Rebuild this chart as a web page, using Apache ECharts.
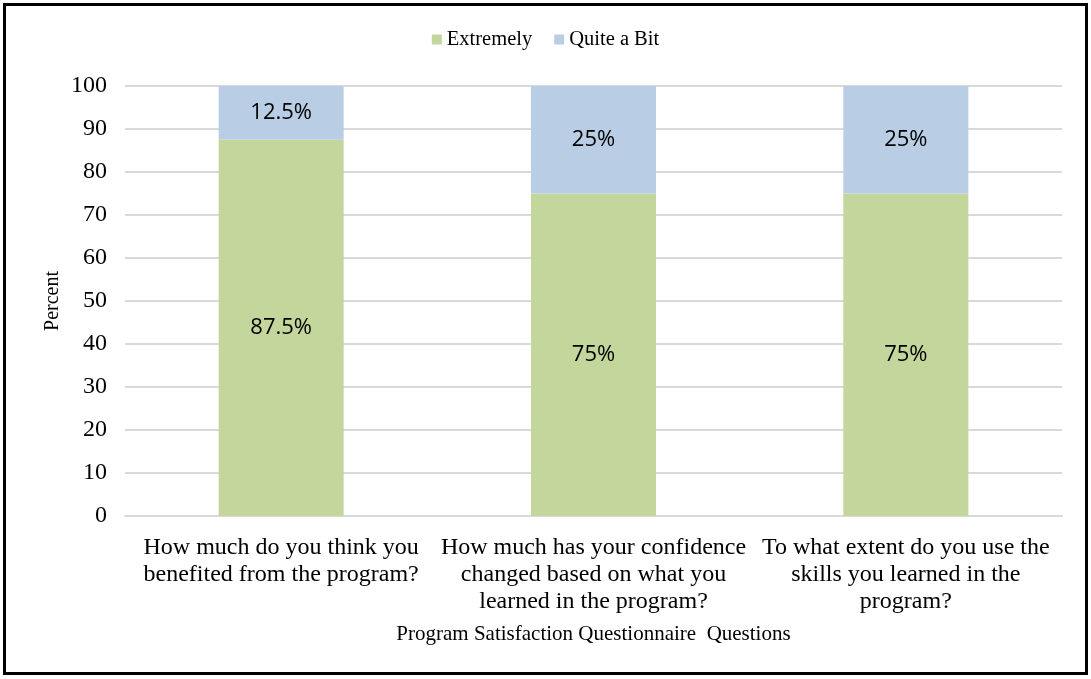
<!DOCTYPE html>
<html><head><meta charset="utf-8">
<script src="https://cdn.jsdelivr.net/npm/echarts@6/dist/echarts.min.js"></script>
<style>
html,body{margin:0;padding:0;background:#fff;}
#frame{position:absolute;left:3px;top:3px;width:1085px;height:672px;border:3px solid #000;box-sizing:border-box;}
#c{position:absolute;left:0;top:0;width:1091px;height:679px;}
</style></head>
<body>
<div id="c"></div>
<div id="frame"></div>
<script>
const categories = [
  "How much do you think you\nbenefited from the program?",
  "How much has your confidence\nchanged based on what you\nlearned in the program?",
  "To what extent do you use the\nskills you learned in the\nprogram?"
];
const extremely = [87.5, 75, 75];
const quiteABit = [12.5, 25, 25];
const extremelyLabels = ["87.5%", "75%", "75%"];
const quiteLabels = ["12.5%", "25%", "25%"];

const serif = "'Liberation Serif', 'DejaVu Serif', serif";
const sans = "'Open Sans', 'Liberation Sans', sans-serif";
const chart = echarts.init(document.getElementById('c'), null, {renderer:'canvas'});
chart.setOption({
  animation:false,
  backgroundColor:'#fff',
  legend:{
    top:24, left:'center', itemWidth:10, itemHeight:10, itemGap:22,
    icon:'rect',
    textStyle:{fontFamily:serif, fontSize:20.5, color:'#000'},
    data:['Extremely','Quite a Bit']
  },
  grid:{left:125, right:29, top:86, bottom:163},
  xAxis:{
    type:'category', data:categories,
    axisLine:{lineStyle:{color:'#d9d9d9', width:2}},
    axisTick:{show:false},
    axisLabel:{fontFamily:serif, fontSize:24, color:'#000', margin:18, lineHeight:27, interval:0},
    name:'Program Satisfaction Questionnaire  Questions',
    nameLocation:'middle', nameGap:108,
    nameTextStyle:{fontFamily:serif, fontSize:21, color:'#000'}
  },
  yAxis:{
    type:'value', min:0, max:100, interval:10,
    axisLine:{show:false}, axisTick:{show:false},
    splitLine:{lineStyle:{color:'#d9d9d9', width:2}},
    axisLabel:{fontFamily:serif, fontSize:24, color:'#000', margin:18},
    name:'Percent', nameLocation:'middle', nameGap:62, nameRotate:90,
    nameMoveOverlap:false,
    nameTextStyle:{fontFamily:serif, fontSize:20, color:'#000'}
  },
  series:[
    {name:'Extremely', type:'bar', stack:'a', barWidth:125, data:extremely,
     itemStyle:{color:'#C3D69B'},
     label:{show:true, position:'inside', fontFamily:sans, fontSize:22, color:'#000',
       formatter:p=>extremelyLabels[p.dataIndex]}},
    {name:'Quite a Bit', type:'bar', stack:'a', barWidth:125, data:quiteABit,
     itemStyle:{color:'#B9CDE5'},
     label:{show:true, position:'inside', fontFamily:sans, fontSize:22, color:'#000',
       formatter:p=>quiteLabels[p.dataIndex]}}
  ]
});
</script>
</body></html>
